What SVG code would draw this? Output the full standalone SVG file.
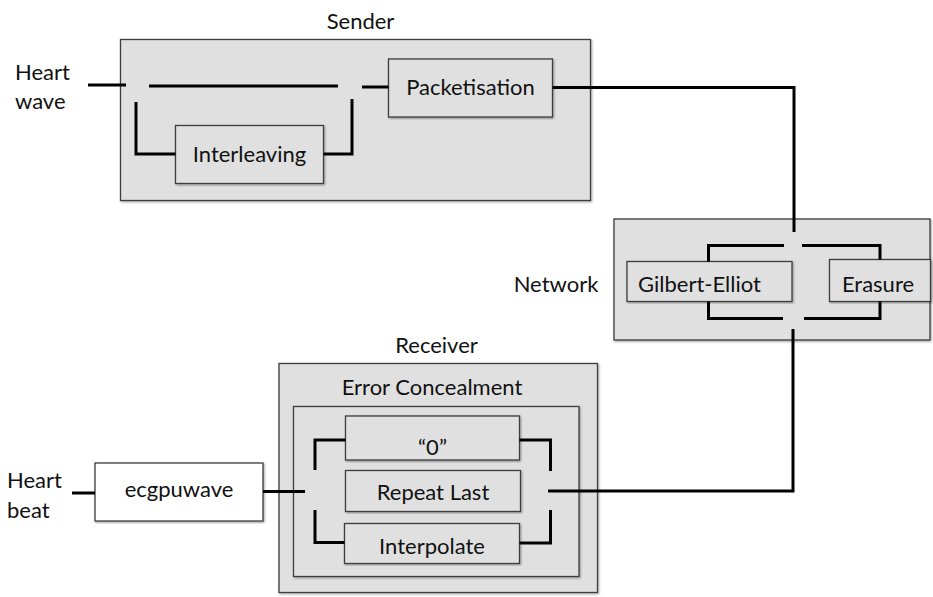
<svg xmlns="http://www.w3.org/2000/svg" width="933" height="597" viewBox="0 0 933 597">
<defs>
<filter id="sh" x="-5%" y="-5%" width="110%" height="110%">
<feDropShadow dx="1" dy="1.2" stdDeviation="0.8" flood-color="#000" flood-opacity="0.35"/>
</filter>
<style>
.box{fill:#e0e0e0;stroke:#3c3c3c;stroke-width:1.3;filter:url(#sh)}
.wbox{fill:#ffffff;stroke:#3c3c3c;stroke-width:1.3;filter:url(#sh)}
.ln{fill:none;stroke:#000;stroke-width:3}
text{font-family:Lato,"Open Sans","Liberation Sans",sans-serif;font-size:22px;fill:#111}
.m{text-anchor:middle}
</style>
</defs>
<rect width="933" height="597" fill="#fff"/>

<g id="sender">
<rect class="box" x="120.5" y="39.5" width="470" height="161"/>
<text class="m" x="360.5" y="29">Sender</text>
</g>
<g id="heart-wave">
<text x="15" y="80">Heart</text>
<text x="15" y="109">wave</text>
</g>
<g id="packetisation">
<rect class="box" x="388.5" y="59" width="164" height="58"/>
<text class="m" x="470.5" y="95">Packetisation</text>
</g>
<g id="interleaving">
<rect class="box" x="175.5" y="125.5" width="148" height="58"/>
<text class="m" x="249.5" y="162">Interleaving</text>
</g>

<g id="network">
<rect class="box" x="614" y="219" width="316" height="121"/>
<text class="m" x="556" y="292">Network</text>
</g>
<g id="gilbert-elliot">
<rect class="box" x="627" y="261.5" width="165" height="40"/>
<text x="638" y="292">Gilbert-Elliot</text>
</g>
<g id="erasure">
<rect class="box" x="829.5" y="259.5" width="101" height="42"/>
<text class="m" x="878" y="292">Erasure</text>
</g>

<g id="receiver">
<rect class="box" x="279" y="363.5" width="318.5" height="229"/>
<text class="m" x="436.5" y="353">Receiver</text>
</g>
<g id="error-concealment">
<rect class="box" x="293.5" y="406.5" width="285.5" height="170"/>
<text class="m" x="432" y="395">Error Concealment</text>
</g>
<g id="zero">
<rect class="box" x="345.5" y="416" width="174" height="44"/>
<text class="m" x="432.5" y="455">“0”</text>
</g>
<g id="repeat-last">
<rect class="box" x="345.5" y="470.5" width="175" height="41"/>
<text class="m" x="433" y="500">Repeat Last</text>
</g>
<g id="interpolate">
<rect class="box" x="344.5" y="523.5" width="175" height="40"/>
<text class="m" x="432" y="554">Interpolate</text>
</g>
<g id="ecgpuwave">
<rect class="wbox" x="95" y="463" width="168" height="58"/>
<text class="m" x="179" y="497">ecgpuwave</text>
</g>
<g id="heart-beat">
<text x="7" y="488">Heart</text>
<text x="7" y="518">beat</text>
</g>

<g id="connectors">
<path class="ln" d="M88 85H126"/>
<path class="ln" d="M149 86H338"/>
<path class="ln" d="M362 87H388.5"/>
<path class="ln" d="M136 102V154H175.5"/>
<path class="ln" d="M323.5 154H352V99"/>
<path class="ln" d="M552.5 87.5H794V232" stroke-linejoin="miter"/>
<path class="ln" d="M708.5 261.5V245.5H784"/>
<path class="ln" d="M802 245.5H880V259.5"/>
<path class="ln" d="M708.5 301.5V318.5H783"/>
<path class="ln" d="M804 318.5H880V301.5"/>
<path class="ln" d="M793 329V491H548"/>
<path class="ln" d="M315 470V440H345.5"/>
<path class="ln" d="M315 510V542.5H344.5"/>
<path class="ln" d="M519.5 440H550.5V471"/>
<path class="ln" d="M519.5 543H550.5V510"/>
<path class="ln" d="M72 493H95"/>
<path class="ln" d="M263 491.5H305"/>
</g>
</svg>
